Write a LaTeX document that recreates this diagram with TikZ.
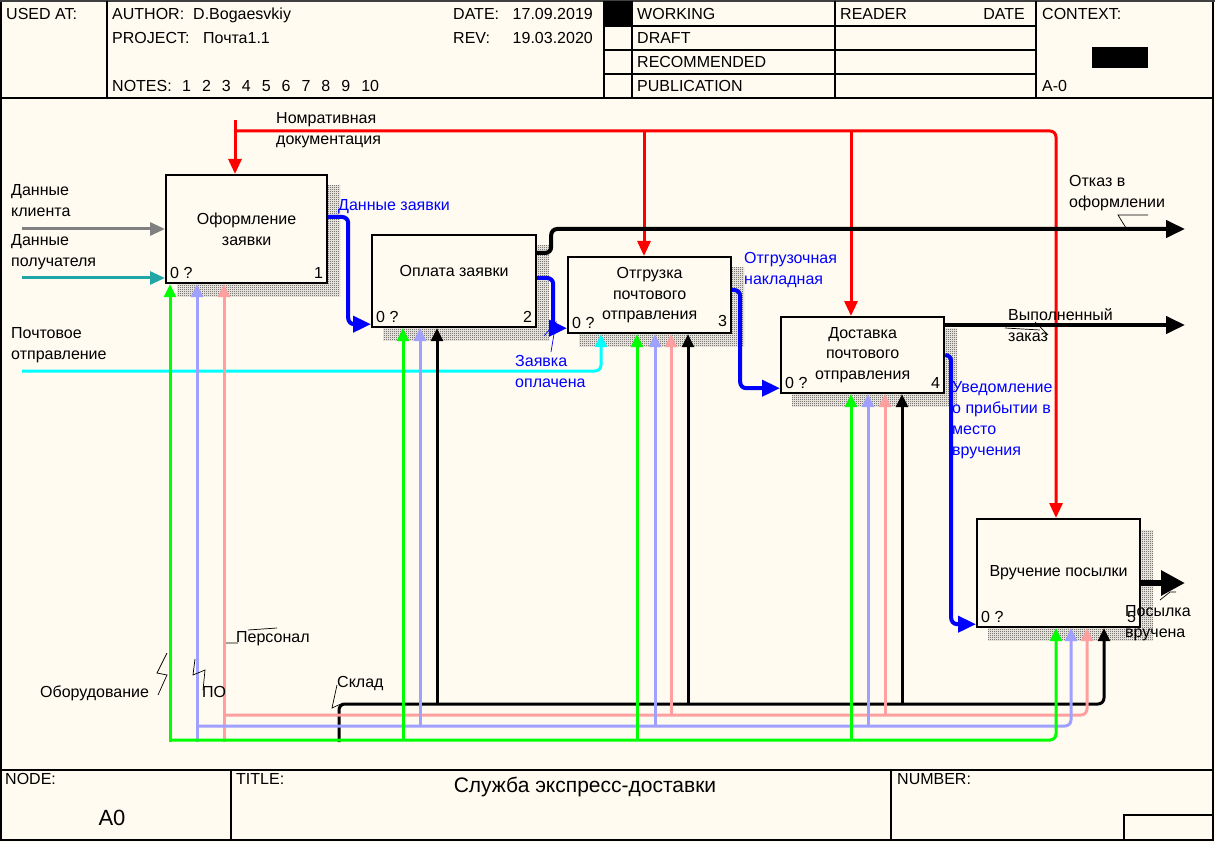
\documentclass[tikz,border=0pt]{standalone}
\usepackage{fontspec}
\setmainfont{Liberation Sans}
\usetikzlibrary{arrows.meta,calc,patterns,backgrounds}
\definecolor{bgc}{RGB}{255,251,240}
\definecolor{grayc}{RGB}{128,128,128}
\definecolor{tealc}{RGB}{32,166,166}
\definecolor{cyanc}{RGB}{0,255,255}
\definecolor{bluec}{RGB}{0,0,255}
\definecolor{redc}{RGB}{255,0,0}
\definecolor{greenc}{RGB}{0,255,0}
\definecolor{lavc}{RGB}{160,160,255}
\definecolor{pinkc}{RGB}{255,160,160}
\pgfdeclarepatternformonly{dither}{\pgfpointorigin}{\pgfpoint{2pt}{2pt}}{\pgfpoint{2pt}{2pt}}{%
  \pgfpathrectangle{\pgfpointorigin}{\pgfpoint{1pt}{1pt}}%
  \pgfpathrectangle{\pgfpoint{1pt}{1pt}}{\pgfpoint{1pt}{1pt}}%
  \pgfusepath{fill}}
\begin{document}
\begin{tikzpicture}[x=1pt,y=-1pt,
  box/.style={draw, line width=2.2pt, fill=bgc, inner sep=0pt, anchor=north west, align=center, font=\fontsize{16}{20.5}\selectfont},
  lbl/.style={inner sep=0pt, anchor=north west, align=left, font=\fontsize{16}{21}\selectfont},
  small/.style={inner sep=0pt, font=\fontsize{16}{21}\selectfont},
  hdr/.style={inner sep=0pt, anchor=west, text height=11.5pt, text depth=0pt, font=\fontsize{16}{18}\selectfont},
  arr/.style={line width=3pt, rounded corners=6pt, -{Triangle[length=15pt,width=13pt]}},
  marr/.style={line width=3pt, rounded corners=6pt, -{Triangle[length=13pt,width=12pt]}},
  barr/.style={line width=4pt, rounded corners=6pt, -{Triangle[length=18pt,width=16pt]}},
  karr/.style={line width=4pt, rounded corners=6pt, -{Triangle[length=19pt,width=17pt]}},
  frame/.style={line width=1.6pt},
  lead/.style={line width=0.7pt},
]
\useasboundingbox (0,0) rectangle (1215,842);

% ---------- boxes ----------
\node[box, minimum width=161pt, minimum height=108pt] (b1) at (165,174) {Оформление\\заявки};
\node[box, minimum width=164pt, minimum height=92pt] (b2) at (371,234) {Оплата заявки\\\mbox{}};
\node[box, minimum width=163pt, minimum height=76pt] (b3) at (567,256) {Отгрузка\\почтового\\отправления};
\node[box, minimum width=163pt, minimum height=76pt] (b4) at (780,316) {Доставка\\почтового\\отправления};
\node[box, minimum width=163pt, minimum height=108pt] (b5) at (976,518) {Вручение посылки};

\begin{pgfonlayer}{background}
\fill[bgc] (0,0) rectangle (1215,842);
\foreach \b in {b1,b2,b3,b4,b5}
  \fill[pattern=dither, pattern color=black!80] ($(\b.north west)+(12,12)$) rectangle ($(\b.south east)+(12,12)$);
\end{pgfonlayer}

% box corner labels
\node[small, anchor=base west] (q1) at ($(b1.south west)+(5,-6)$) {0 ?};
\node[small, anchor=base east] (n1) at ($(b1.south east)+(-5,-6)$) {1};
\node[small, anchor=base west] (q2) at ($(b2.south west)+(5,-6)$) {0 ?};
\node[small, anchor=base east] (n2) at ($(b2.south east)+(-5,-6)$) {2};
\node[small, anchor=base west] (q3) at ($(b3.south west)+(5,-6)$) {0 ?};
\node[small, anchor=base east] (n3) at ($(b3.south east)+(-5,-8)$) {3};
\node[small, anchor=base west] (q4) at ($(b4.south west)+(5,-6)$) {0 ?};
\node[small, anchor=base east] (n4) at ($(b4.south east)+(-5,-6)$) {4};
\node[small, anchor=base west] (q5) at ($(b5.south west)+(5,-6)$) {0 ?};
\node[small, anchor=base east] (n5) at ($(b5.south east)+(-5,-6)$) {5};

% ---------- frame ----------
\draw[frame] (1,1) rectangle (1213,840);
\draw[line width=2pt, black!75] (0,1) -- (1215,1);
\draw[frame] (1,98) -- (1213,98);
\draw[frame] (107,1) -- (107,98) (604,1) -- (604,98) (632,1) -- (632,98) (835,1) -- (835,98) (1036,1) -- (1036,98);
\draw[frame] (604,26) -- (1036,26) (604,50) -- (1036,50) (604,74) -- (1036,74);
\fill (604,1) rectangle (632,26);
\fill (1092,47) rectangle (1148,68);
\draw[frame] (1,770) -- (1213,770) (231,770) -- (231,840) (891,770) -- (891,840);
\draw[frame] (1124,815) rectangle (1213,840);

% ---------- header text ----------
\node[hdr] (usedat) at (6,14) {USED AT:};
\node[hdr] (author) at (112,14) {AUTHOR:};
\node[hdr] (authorv) at (193,14) {D.Bogaesvkiy};
\node[hdr] (project) at (112,38) {PROJECT:};
\node[hdr] (projectv) at (203,38) {Почта1.1};
\node[hdr] (notes) at (112,86) {NOTES:};
\node[hdr] (notesv) at (182,86) {1\hspace{11pt}2\hspace{11pt}3\hspace{11pt}4\hspace{11pt}5\hspace{11pt}6\hspace{11pt}7\hspace{11pt}8\hspace{11pt}9\hspace{11pt}10};
\node[hdr] (date) at (453,14) {DATE:};
\node[hdr, anchor=east] (datev) at (593,14) {17.09.2019};
\node[hdr] (rev) at (453,38) {REV:};
\node[hdr, anchor=east] (revv) at (593,38) {19.03.2020};
\node[hdr] (working) at (637,14) {WORKING};
\node[hdr] (draft) at (637,38) {DRAFT};
\node[hdr] (recom) at (637,62) {RECOMMENDED};
\node[hdr] (publ) at (637,86) {PUBLICATION};
\node[hdr] (reader) at (840,14) {READER};
\node[hdr, anchor=east] (rdate) at (1025,14) {DATE};
\node[hdr] (context) at (1042,14) {CONTEXT:};
\node[hdr] (am0) at (1042,86) {A-0};

% ---------- footer text ----------
\node[hdr] (node) at (5,779) {NODE:};
\node[hdr] (title) at (236,779) {TITLE:};
\node[hdr] (number) at (897,779) {NUMBER:};
\node[inner sep=0pt, font=\fontsize{21}{24}\selectfont] (tval) at (585,787) {Служба экспресс-доставки};
\node[inner sep=0pt, font=\fontsize{22}{24}\selectfont] (nval) at (112,818) {A0};

% ---------- controls (red) ----------
\coordinate (rtop) at (235,120);
\coordinate (rh) at (235,131);
\coordinate (c1) at ($(b1.north west)+(70,0)$);
\coordinate (c3) at ($(b3.north west)+(77,0)$);
\coordinate (c4) at ($(b4.north west)+(71,0)$);
\coordinate (c5) at ($(b5.north west)+(80,0)$);
\draw[arr, redc] (rtop) -- (c1);
\draw[arr, redc] (rh) -| (c5);
\draw[arr, redc] (c3 |- rh) -- (c3);
\draw[arr, redc] (c4 |- rh) -- (c4);

% ---------- inputs ----------
\coordinate (s1) at (22,229);
\coordinate (s2) at (22,278);
\coordinate (s3) at (22,371);
\coordinate (i1a) at ($(b1.north west)+(0,55)$);
\coordinate (i1b) at ($(b1.north west)+(0,104)$);
\coordinate (i3c) at ($(b3.south west)+(34,0)$);
\draw[arr, grayc] (s1) -- (i1a);
\draw[arr, tealc] (s2) -- (i1b);
\draw[marr, cyanc] (s3) -| (i3c);

% ---------- blue flows ----------
\coordinate (o1) at ($(b1.north east)+(0,43)$);
\coordinate (i2) at ($(b2.south west)+(0,-4)$);
\coordinate (o2) at ($(b2.north east)+(0,44)$);
\coordinate (i3) at ($(b3.south west)+(0,-6)$);
\coordinate (o3) at ($(b3.north east)+(0,34)$);
\coordinate (i4) at ($(b4.south west)+(0,-6)$);
\coordinate (o4) at ($(b4.north east)+(0,39)$);
\coordinate (i5) at ($(b5.south west)+(0,-4)$);
\draw[barr, bluec] (o1) -- ++(20,0) |- (i2);
\draw[barr, bluec] (o2) -- ++(16,0) |- (i3);
\draw[barr, bluec] (o3) -- ++(8,0) |- (i4);
\draw[barr, bluec] (o4) -- ++(6,0) |- (i5);

% ---------- black outputs ----------
\coordinate (o2b) at ($(b2.north east)+(0,19)$);
\coordinate (e1) at (1185,229);
\coordinate (o4b) at ($(b4.north east)+(0,9)$);
\coordinate (e2) at (1185,325);
\coordinate (o5) at ($(b5.north east)+(0,65)$);
\coordinate (e3) at (1185,583);
\draw[karr] (o2b) -- ++(14,0) |- (e1);
\draw[karr] (o4b) -- (e2);
\draw[line width=6pt, -{Triangle[length=24pt,width=24pt]}] (o5) -- (e3);

% ---------- mechanisms ----------
\coordinate (m1g) at ($(b1.south west)+(5,0)$);
\coordinate (m2g) at ($(b2.south west)+(32,0)$);
\coordinate (m3g) at ($(b3.south west)+(70,0)$);
\coordinate (m4g) at ($(b4.south west)+(71,0)$);
\coordinate (m5g) at ($(b5.south west)+(80,0)$);
\coordinate (m1l) at ($(b1.south west)+(32,0)$);
\coordinate (m2l) at ($(b2.south west)+(49,0)$);
\coordinate (m3l) at ($(b3.south west)+(88,0)$);
\coordinate (m4l) at ($(b4.south west)+(88,0)$);
\coordinate (m5l) at ($(b5.south west)+(95,0)$);
\coordinate (m1p) at ($(b1.south west)+(59,0)$);
\coordinate (m3p) at ($(b3.south west)+(104,0)$);
\coordinate (m4p) at ($(b4.south west)+(105,0)$);
\coordinate (m5p) at ($(b5.south west)+(111,0)$);
\coordinate (m2k) at ($(b2.south west)+(66,0)$);
\coordinate (m3k) at ($(b3.south west)+(121,0)$);
\coordinate (m4k) at ($(b4.south west)+(122,0)$);
\coordinate (m5k) at ($(b5.south west)+(128,0)$);
\coordinate (gb) at (170,742); \coordinate (gh) at (170,740);
\coordinate (lb) at (197,742); \coordinate (lh) at (197,726);
\coordinate (pb) at (224,742); \coordinate (ph) at (224,715);
\coordinate (kb) at (339,742); \coordinate (kh) at (339,704);

\draw[marr] (kb) -- (kh) -| (m5k);
\draw[marr] (m2k |- kh) -- (m2k);
\draw[marr] (m3k |- kh) -- (m3k);
\draw[marr] (m4k |- kh) -- (m4k);

\draw[marr, pinkc] (pb) -- (m1p);
\draw[marr, pinkc] (ph) -| (m5p);
\draw[marr, pinkc] (m3p |- ph) -- (m3p);
\draw[marr, pinkc] (m4p |- ph) -- (m4p);

\draw[marr, lavc] (lb) -- (m1l);
\draw[marr, lavc] (lh) -| (m5l);
\draw[marr, lavc] (m2l |- lh) -- (m2l);
\draw[marr, lavc] (m3l |- lh) -- (m3l);
\draw[marr, lavc] (m4l |- lh) -- (m4l);

\draw[marr, greenc] (gb) -- (m1g);
\draw[marr, greenc] (gh) -| (m5g);
\draw[marr, greenc] (m2g |- gh) -- (m2g);
\draw[marr, greenc] (m3g |- gh) -- (m3g);
\draw[marr, greenc] (m4g |- gh) -- (m4g);

% ---------- labels ----------
\node[lbl] (lnorm) at (276,112) {Номративная\\документация};
\node[lbl] (lcli) at (11,184) {Данные\\клиента};
\node[lbl] (lpol) at (11,234) {Данные\\получателя};
\node[lbl] (lpocht) at (11,327) {Почтовое\\отправление};
\node[lbl, text=bluec] (ldz) at (338,199) {Данные заявки};
\node[lbl, text=bluec] (lzo) at (515,355) {Заявка\\оплачена};
\node[lbl, text=bluec] (lon) at (744,252) {Отгрузочная\\накладная};
\node[lbl, text=bluec] (luv) at (952,381) {Уведомление\\о прибытии в\\место\\вручения};
\node[lbl] (lotk) at (1069,175) {Отказ в\\оформлении};
\node[lbl] (lvyp) at (1008,308) {Выполненный\\заказ};
\node[lbl] (lpos) at (1125,605) {Посылка\\вручена};
\node[lbl] (lob) at (40,686) {Оборудование};
\node[lbl] (lpo) at (202,686) {ПО};
\node[lbl] (lpers) at (236,631) {Персонал};
\node[lbl] (lskl) at (337,676) {Склад};

% ---------- leader squiggles ----------
\draw[lead] (1148,215) -- (1118,215) -- (1126,228);
\draw[lead] (1005,328) -- (1040,330) (1035,322) -- (1048,335);
\draw[lead] (1160,600) -- (1170,592) -- (1176,592);
\draw[lead, bluec] (544,336) -- (556,322) -- (551,352);
\draw[lead] (158,695) -- (167,675) -- (157,673) -- (167,653);
\draw[lead] (195,659) -- (193,675) -- (205,670) -- (203,690);
\draw[lead] (226,643) -- (238,643) (248,630) -- (277,628);
\draw[lead] (343,703) -- (332,708) -- (337,685);
\end{tikzpicture}
\end{document}
